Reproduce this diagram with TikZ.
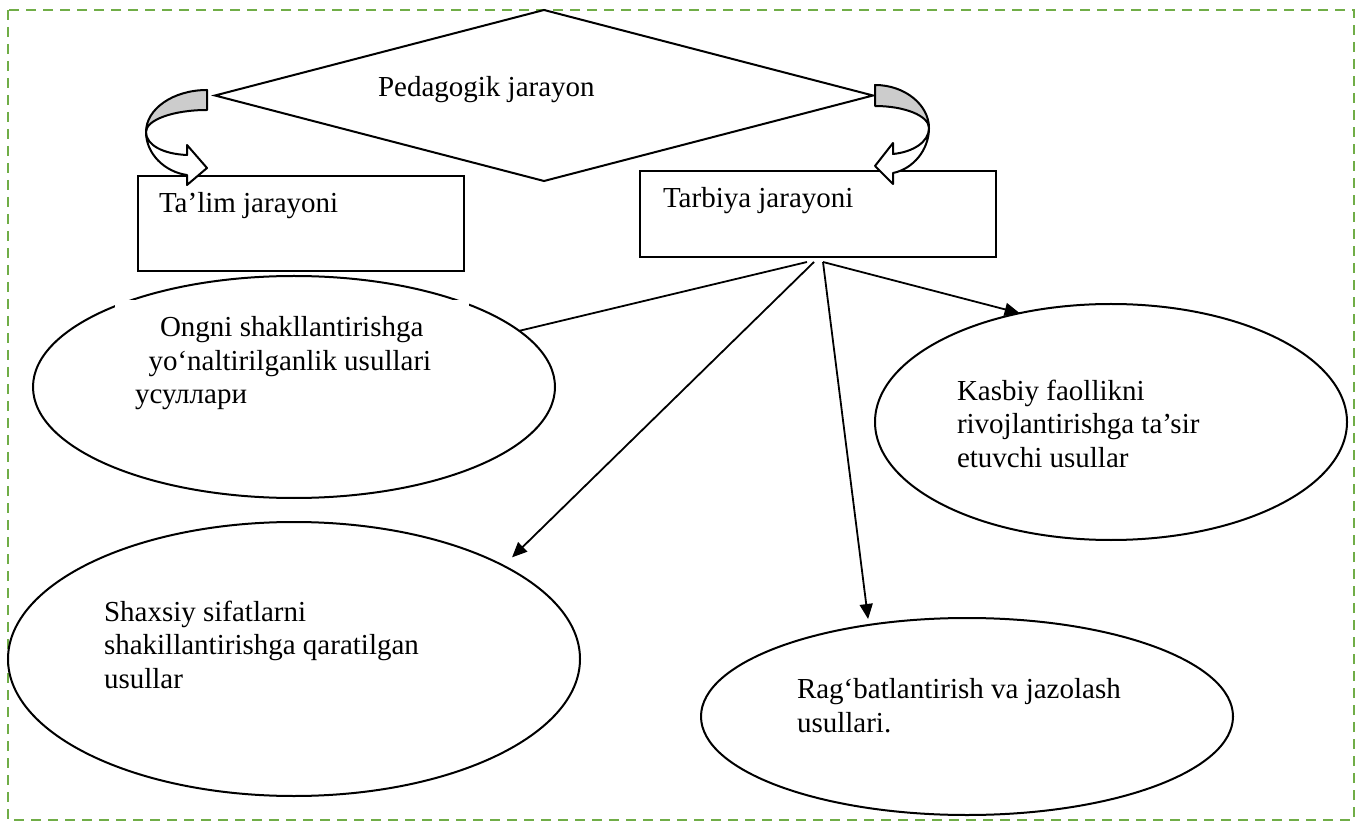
\documentclass[tikz,border=0pt]{standalone}
\usepackage{fontspec}
\setmainfont{Liberation Serif}
\usetikzlibrary{shapes.geometric,arrows.meta,calc}
\definecolor{framegreen}{RGB}{112,173,71}
\definecolor{bandgray}{RGB}{204,204,204}
\begin{document}
\begin{tikzpicture}[x=0.5pt,y=-0.5pt,
  txt/.style={font=\fontsize{14.5pt}{16.75pt}\selectfont, inner sep=0pt, outer sep=0pt, align=left, anchor=base west},
  oval/.style={ellipse, draw, line width=1pt, fill=white, inner sep=0pt, outer sep=0pt},
  procbox/.style={rectangle, draw, line width=1pt, fill=white, inner sep=0pt, outer sep=0pt},
  conn/.style={line width=0.9pt},
  arr/.style={conn, -{Triangle[length=7.5pt,width=6.5pt]}},
  band/.style={draw, line width=1pt, line join=round}
]
\useasboundingbox (0,0) rectangle (1365,823);
% frame
\draw[framegreen, line width=1.2pt, dash pattern=on 5pt off 3.5pt] (8,10) rectangle (1354,820);

% diamond
\node[diamond, draw, line width=1pt, fill=white, minimum width=329pt, minimum height=85.5pt, inner sep=0pt, outer sep=0pt] (ped) at (544,95.5) {};
\node[txt] (pedt) at (378,97) {Pedagogik jarayon};

% boxes
\node[procbox, minimum width=163pt, minimum height=47.5pt] (talim) at (301,223.5) {};
\node[txt] (talimt) at (159,213) {Ta’lim jarayoni};
\node[procbox, minimum width=178pt, minimum height=43pt] (tarb) at (818,214) {};
\node[txt] (tarbt) at (663,208) {Tarbiya jarayoni};

% curved arrow left
\path[band, fill=bandgray] (207,90) .. controls (173,90) and (146,109) .. (146,132)
   .. controls (146,120) and (173,110) .. (207,110) -- cycle;
\path[band, fill=white] (146,132) .. controls (146,154) and (165,172) .. (187,175)
   -- (187,185) -- (207,168) -- (187,145) -- (187,155)
   .. controls (163,154) and (146,145) .. (146,132) -- cycle;
% curved arrow right
\path[band, fill=bandgray] (875,85) .. controls (905,85) and (929,105) .. (929,128)
   .. controls (929,116) and (905,106) .. (875,106) -- cycle;
\path[band, fill=white] (929,128) .. controls (929,150) and (913,169) .. (893,173)
   -- (893,184) -- (875,166) -- (893,143) -- (893,154)
   .. controls (913,152) and (929,142) .. (929,128) -- cycle;

% ellipses (multi-line text nodes are anchored at the baseline of their last line)
\node[oval, minimum width=261pt, minimum height=111pt] (e1) at (294,387) {};
\fill[white] (115,300) rectangle (469,440);
\node[txt] (e1t) at (135,404) {\hspace*{12.5pt}Ongni shakllantirishga\\\hspace*{6.75pt}yo‘naltirilganlik usullari\\усуллари};

\node[oval, minimum width=286pt, minimum height=137pt] (e2) at (294,659) {};
\node[txt] (e2t) at (104,688) {Shaxsiy sifatlarni\\shakillantirishga qaratilgan\\usullar};

\node[oval, minimum width=236pt, minimum height=118pt] (e3) at (1111,422) {};
\node[txt] (e3t) at (957,467) {Kasbiy faollikni\\rivojlantirishga ta’sir\\etuvchi usullar};

\node[oval, minimum width=266pt, minimum height=98.5pt] (e4) at (967,716.5) {};
\node[txt] (e4t) at (797,732) {Rag‘batlantirish va jazolash\\usullari.};

% connectors
\coordinate (s1) at ($(tarb.south)+(-11,5)$);
\coordinate (s2) at ($(tarb.south)+(-4,5)$);
\coordinate (s3) at ($(tarb.south)+(5,5)$);
\draw[conn] (s1) -- (e1.14.7);
\draw[arr, shorten >=6pt] (s2) -- (e2.24.4);
\draw[arr] (s3) -- (e3.130.6);
\draw[arr, shorten >=3pt] (s3) -- (e4.137.1);
\end{tikzpicture}
\end{document}
